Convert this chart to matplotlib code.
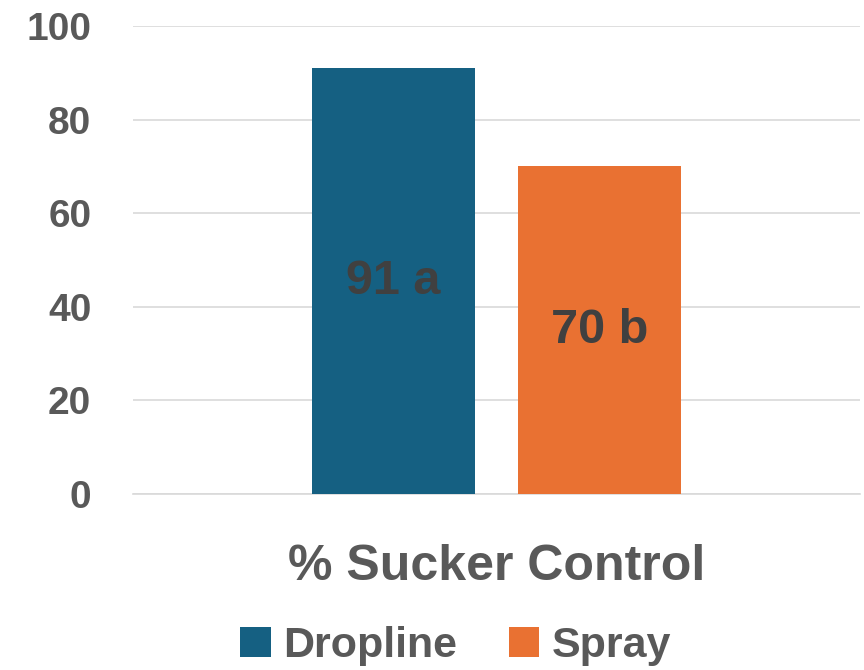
import matplotlib
matplotlib.use("Agg")
import matplotlib.pyplot as plt
from matplotlib.patches import Patch

plt.rcParams['font.family'] = ['Liberation Sans', 'DejaVu Sans']
plt.rcParams['font.weight'] = 'bold'

category = "% Sucker Control"
series = ["Dropline", "Spray"]
values = [91, 70]
letters = ["a", "b"]
colors = ["#156082", "#E97132"]
yticks = [0, 20, 40, 60, 80, 100]

text_grey = "#595959"
label_grey = "#404040"
grid_grey = "#D9D9D9"

fig = plt.figure(figsize=(8.64, 6.70), dpi=100)
ax = fig.add_axes([133 / 864, 1 - 494 / 670, 727 / 864, 468 / 670])

width = 0.224
offsets = [-0.1416, 0.1416]
for name, val, let, col, off in zip(series, values, letters, colors, offsets):
    ax.bar(0.5 + off, val, width=width, color=col, zorder=3, label=name)
    ax.text(0.5 + off, val / 2, f"{val} {let}", ha="center", va="center",
            fontsize=35, fontweight="bold", color=label_grey, zorder=4)

ax.set_xlim(0, 1)
ax.set_ylim(0, 100)
ax.set_yticks(yticks)
ax.set_xticks([0.5])
ax.set_xticklabels([category])
ax.tick_params(axis="y", length=0, pad=30, labelsize=28, labelcolor=text_grey)
ax.tick_params(axis="x", length=0, pad=36, labelsize=36, labelcolor=text_grey)
for lab in ax.get_yticklabels() + ax.get_xticklabels():
    lab.set_fontweight("bold")

ax.grid(axis="y", color=grid_grey, linewidth=1.2, zorder=0)
for side in ["left", "right", "top"]:
    ax.spines[side].set_visible(False)
ax.spines["bottom"].set_color(grid_grey)
ax.spines["bottom"].set_linewidth(1.2)

handles = [Patch(facecolor=c, label=s) for s, c in zip(series, colors)]
leg = fig.legend(handles=handles, loc="center", bbox_to_anchor=(456 / 864, 1 - 646 / 670),
                 ncol=2, frameon=False, fontsize=31, handlelength=0.7, handleheight=0.7,
                 handletextpad=0.3, columnspacing=1.2, borderpad=0)
for t in leg.get_texts():
    t.set_color(text_grey)
    t.set_fontweight("bold")

fig.savefig("out.png", dpi=100, facecolor="white")
